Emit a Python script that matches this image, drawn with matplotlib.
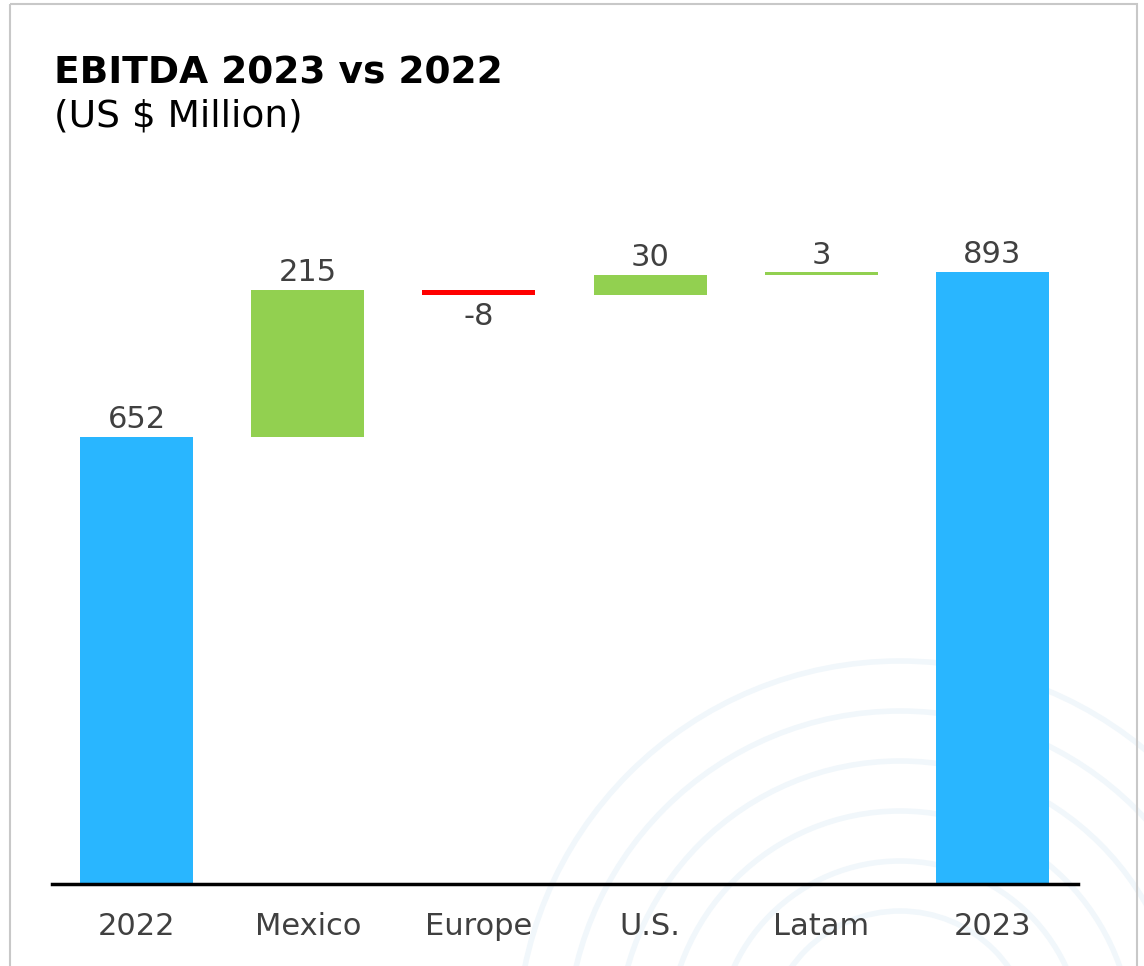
import matplotlib.pyplot as plt
from matplotlib.patches import Rectangle, Circle

# Datos del gráfico (US $ millones)
categorias = ["2022", "Mexico", "Europe", "U.S.", "Latam", "2023"]
valores = [652, 215, -8, 30, 3, 893]
tipos = ["total", "delta", "delta", "delta", "delta", "total"]
etiquetas = ["652", "215", "-8", "30", "3", "893"]

azul = "#29B6FF"
verde = "#92D050"
rojo = "#FF0000"
gris_texto = "#404040"

fig = plt.figure(figsize=(11.44, 9.66), dpi=100)

# Fondo decorativo: arcos concéntricos y marco
ax_bg = fig.add_axes([0, 0, 1, 1], zorder=0)
ax_bg.set_xlim(0, 1144)
ax_bg.set_ylim(966, 0)
ax_bg.axis("off")
for r in [383, 333, 283, 233, 183, 133]:
    ax_bg.add_patch(Circle((900, 1044), r, fill=False, ec="#F1F7FB", lw=4))
ax_bg.add_patch(Rectangle((10, 4), 1127, 1000, fill=False, ec="#C8C8C8", lw=1.5))

ax = fig.add_axes([52 / 1144, 82 / 966, 1026 / 1144, 684 / 966], zorder=1)
ax.patch.set_alpha(0)

# Calcular bases de la cascada
acumulado = 0
for i, (v, t) in enumerate(zip(valores, tipos)):
    if t == "total":
        base, altura, color = 0, v, azul
        acumulado = v
    else:
        base = acumulado if v >= 0 else acumulado + v
        altura = abs(v)
        color = verde if v >= 0 else rojo
        acumulado += v
    ax.bar(i, altura, bottom=base, width=0.66, color=color, zorder=2)
    if v >= 0:
        ax.text(i, base + altura + 4, etiquetas[i], ha="center", va="bottom",
                fontsize=22, color=gris_texto)
    else:
        ax.text(i, base - 10, etiquetas[i], ha="center", va="top",
                fontsize=22, color=gris_texto)

ax.set_xlim(-0.494, 5.5)
ax.set_ylim(0, 997.7)
ax.set_xticks(range(len(categorias)))
ax.set_xticklabels(categorias, fontsize=22, color=gris_texto)
ax.tick_params(axis="x", length=0, pad=20)
ax.set_yticks([])
for lado in ["top", "right", "left"]:
    ax.spines[lado].set_visible(False)
ax.spines["bottom"].set_linewidth(2.5)
ax.spines["bottom"].set_color("black")

fig.text(54 / 1144, 1 - 84 / 966, "EBITDA 2023 vs 2022", fontsize=27,
         fontweight="bold", color="black", ha="left", va="baseline")
fig.text(54 / 1144, 1 - 126 / 966, "(US $ Million)", fontsize=27,
         color="black", ha="left", va="baseline")

plt.savefig("out.png", dpi=100)
